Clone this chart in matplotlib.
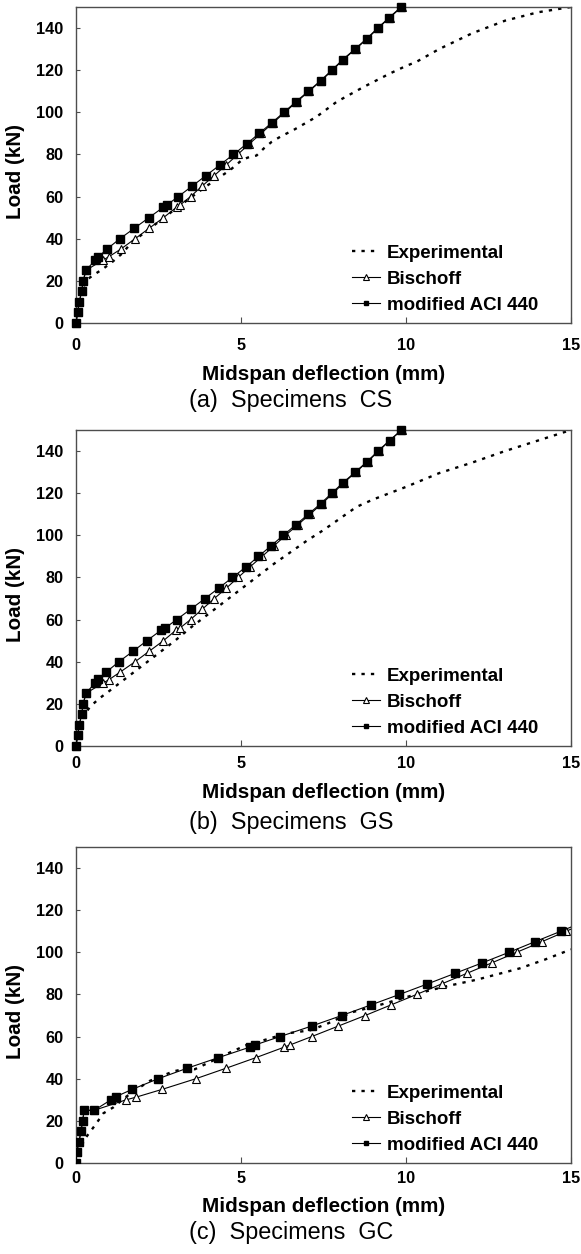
import matplotlib
matplotlib.use("Agg")
import matplotlib.pyplot as plt

plt.rcParams['font.family'] = ['Liberation Sans', 'DejaVu Sans']

# ---------------- data ----------------
x_ticks = [0, 5, 10, 15]
y_ticks = [0, 20, 40, 60, 80, 100, 120, 140]
legend_labels = ["Experimental", "Bischoff", "modified ACI 440"]
captions = ["(a)  Specimens  CS", "(b)  Specimens  GS", "(c)  Specimens  GC"]
x_label = "Midspan deflection (mm)"
y_label = "Load (kN)"

# (a) Specimens CS
cs_exp_defl = [0, 0.05, 0.12, 0.22, 0.33, 0.5, 0.8, 1.1, 1.4, 1.7, 2.0, 2.5, 3.0, 3.45, 4.0,
               4.67, 5.0, 5.2, 5.47, 5.7, 5.93, 6.2, 6.59, 7.29, 7.9, 8.71, 9.52, 10.0, 10.32,
               11.0, 12.0, 13.0, 14.0, 15.0]
cs_exp_load = [0, 6, 12, 17, 20.5, 22.5, 25.5, 29, 33, 38.5, 42, 48, 54, 59.2, 65.5,
               72.6, 77, 78.5, 79.5, 83, 86, 88.5, 91.6, 97.9, 105, 112, 118.5, 122, 124,
               130, 137.5, 143.5, 147.5, 150]
cs_bis_load = [0, 5, 10, 15, 20, 25, 30, 31.4, 35, 40, 45, 50, 55, 56, 60, 65, 70, 75, 80, 85,
               90, 95, 100, 105, 110, 115, 120, 125, 130, 135, 140, 145, 150]
cs_bis_defl = [0, 0.05, 0.10, 0.17, 0.22, 0.30, 0.83, 0.99, 1.35, 1.79, 2.22, 2.65, 3.05, 3.15,
               3.47, 3.82, 4.19, 4.55, 4.90, 5.25, 5.61, 5.97, 6.33, 6.69, 7.06, 7.43, 7.77,
               8.10, 8.47, 8.83, 9.16, 9.51, 9.87]
cs_aci_load = [0, 5, 10, 15, 20, 25, 30, 31.4, 35, 40, 45, 50, 55, 56, 60, 65, 70, 75, 80, 85,
               90, 95, 100, 105, 110, 115, 120, 125, 130, 135, 140, 145, 150]
cs_aci_defl = [0, 0.05, 0.10, 0.17, 0.22, 0.30, 0.59, 0.68, 0.93, 1.33, 1.77, 2.21, 2.65, 2.75,
               3.10, 3.52, 3.94, 4.36, 4.77, 5.17, 5.55, 5.93, 6.30, 6.66, 7.04, 7.41, 7.75,
               8.08, 8.45, 8.81, 9.14, 9.49, 9.85]

# (b) Specimens GS
gs_exp_defl = [0, 0.05, 0.15, 0.3, 0.45, 0.7, 1.0, 1.5, 2.0, 2.5, 3.0, 3.5, 4.0, 4.5, 5.0, 5.5,
               6.0, 6.5, 7.0, 7.5, 8.0, 8.5, 9.0, 9.5, 10.0, 11.0, 12.0, 13.0, 14.0, 15.0]
gs_exp_load = [0, 5, 11, 16, 19, 22.5, 26, 32, 38, 44, 50, 56.5, 62.5, 68.5, 74.5, 80.5,
               86.5, 92, 97.5, 102.5, 108, 113.5, 117, 120, 123, 129.5, 134.5, 140, 145, 150]
gs_bis_load = [0, 5, 10, 15, 20, 25, 30, 31.4, 35, 40, 45, 50, 55, 56, 60, 65, 70, 75, 80, 85,
               90, 95, 100, 105, 110, 115, 120, 125, 130, 135, 140, 145, 150]
gs_bis_defl = [0, 0.05, 0.10, 0.17, 0.22, 0.30, 0.83, 0.99, 1.33, 1.79, 2.22, 2.65, 3.03, 3.15,
               3.47, 3.83, 4.19, 4.56, 4.91, 5.27, 5.64, 6.00, 6.35, 6.72, 7.09, 7.45, 7.79,
               8.12, 8.48, 8.84, 9.17, 9.51, 9.87]
gs_aci_load = [0, 5, 10, 15, 20, 25, 30, 31.6, 35, 40, 45, 50, 55, 56, 60, 65, 70, 75, 80, 85,
               90, 95, 100, 105, 110, 115, 120, 125, 130, 135, 140, 145, 150]
gs_aci_defl = [0, 0.05, 0.10, 0.17, 0.22, 0.30, 0.58, 0.68, 0.91, 1.30, 1.73, 2.15, 2.58, 2.70,
               3.05, 3.48, 3.91, 4.33, 4.74, 5.15, 5.53, 5.91, 6.28, 6.66, 7.04, 7.41, 7.75,
               8.09, 8.46, 8.82, 9.15, 9.50, 9.86]

# (c) Specimens GC
gc_exp_defl = [0, 0.1, 0.28, 0.58, 0.83, 1.13, 1.48, 1.84, 2.24, 2.95, 3.4, 3.6, 3.8, 4.67,
               5.17, 5.78, 6.38, 7.1, 7.6, 8.35, 9.2, 10.07, 10.73, 11.4, 12.14, 13.45, 14.2, 15.0]
gc_exp_load = [0, 6, 11.7, 18, 23.6, 26.4, 31, 35, 39, 43.5, 45, 44.5, 46, 52.5,
               56, 58.7, 61.5, 63, 66, 71.5, 75, 79, 82, 84.5, 87, 92.4, 96.5, 101.4]
gc_bis_load = [0, 5, 10, 15, 20, 25, 25, 30, 31.2, 35, 40, 45, 50, 55, 56, 60, 65, 70, 75, 80,
               85, 90, 95, 100, 105, 110, 111]
gc_bis_defl = [0, 0.02, 0.09, 0.15, 0.20, 0.25, 0.55, 1.52, 1.81, 2.62, 3.63, 4.55, 5.45, 6.31,
               6.48, 7.14, 7.95, 8.76, 9.54, 10.32, 11.08, 11.84, 12.60, 13.35, 14.11, 14.85, 15.0]
gc_aci_load = [0, 5, 10, 15, 20, 25, 25, 30, 31.5, 35, 40, 45, 50, 55, 56, 60, 65, 70, 75, 80,
               85, 90, 95, 100, 105, 110, 112]
gc_aci_defl = [0, 0.02, 0.09, 0.15, 0.20, 0.25, 0.55, 1.06, 1.21, 1.71, 2.49, 3.37, 4.31, 5.27,
               5.42, 6.18, 7.14, 8.05, 8.93, 9.80, 10.65, 11.48, 12.31, 13.12, 13.90, 14.69, 15.0]

panels = [
    (cs_exp_defl, cs_exp_load, cs_bis_defl, cs_bis_load, cs_aci_defl, cs_aci_load),
    (gs_exp_defl, gs_exp_load, gs_bis_defl, gs_bis_load, gs_aci_defl, gs_aci_load),
    (gc_exp_defl, gc_exp_load, gc_bis_defl, gc_bis_load, gc_aci_defl, gc_aci_load),
]

# ---------------- layout ----------------
W, H = 581, 1254
fig = plt.figure(figsize=(W / 100, H / 100), dpi=100)

ax_px = [(7, 323), (430, 746), (847, 1163)]       # top, bottom in pixels
left_px, right_px = 76, 571
xtick_pad = [11, 7.5, 5.5]
xlabel_y = [375, 793, 1206]
caption_y = [401, 823, 1233]

frame_col = '#4d4d4d'

for i, (ed, el, bd, bl, ad, al) in enumerate(panels):
    top, bot = ax_px[i]
    ax = fig.add_axes([left_px / W, 1 - bot / H, (right_px - left_px) / W, (bot - top) / H])
    ax.plot(ed, el, color='black', lw=1.7, linestyle=(0, (1.4, 2.6)), label=legend_labels[0],
            zorder=2)
    last_b = len(bd) - 1 if i == 2 else len(bd)
    last_a = len(ad) - 1 if i == 2 else len(ad)
    ax.plot(bd, bl, color='black', lw=0.8, marker='^', markersize=5.8, markerfacecolor='white',
            markeredgecolor='black', markeredgewidth=0.8, markevery=list(range(last_b)),
            label=legend_labels[1], zorder=3, clip_on=(i == 2))
    ax.plot(ad, al, color='black', lw=0.8, marker='s', markersize=5.2, markerfacecolor='black',
            markeredgecolor='black', markevery=list(range(last_a)),
            label=legend_labels[2], zorder=4, clip_on=(i == 2))
    ax.set_xlim(0, 15)
    ax.set_ylim(0, 150)
    ax.set_xticks(x_ticks)
    ax.set_yticks(y_ticks)
    ax.tick_params(axis='x', direction='in', length=4, width=0.8, color=frame_col,
                   labelsize=11.7, pad=xtick_pad[i])
    ax.tick_params(axis='y', direction='in', length=3, width=0.8, color=frame_col,
                   labelsize=11.7, pad=9)
    for lab in ax.get_xticklabels() + ax.get_yticklabels():
        lab.set_fontweight('bold')
    for sp in ax.spines.values():
        sp.set_color(frame_col)
        sp.set_linewidth(1.0)
    ax.set_xlabel(x_label, fontsize=14.9, fontweight='bold', va='center')
    ax.xaxis.set_label_coords(0.5, (bot - xlabel_y[i]) / (bot - top))
    ax.set_ylabel(y_label, fontsize=14.9, fontweight='bold', va='center')
    ax.yaxis.set_label_coords((16 - left_px) / (right_px - left_px), 0.48)
    leg = ax.legend(loc='lower right', bbox_to_anchor=((538 - left_px) / (right_px - left_px), 0.03),
                    frameon=False, prop={'weight': 'bold', 'size': 13.5},
                    handlelength=1.5, handletextpad=0.35, labelspacing=0.47, borderpad=0,
                    borderaxespad=0, markerscale=0.65)
    fig.text(291 / W, 1 - caption_y[i] / H, captions[i], fontsize=16.8, ha='center',
             va='center')

fig.savefig('out.png', dpi=100)
